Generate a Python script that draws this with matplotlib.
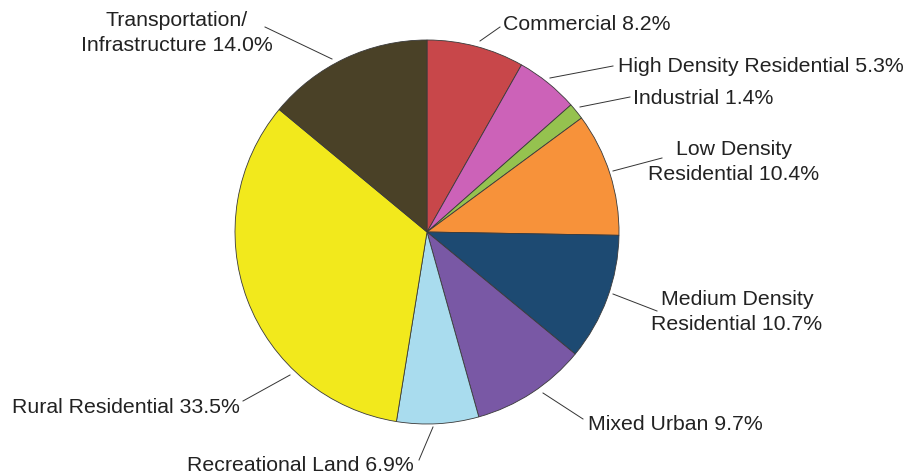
import matplotlib
matplotlib.use("Agg")
import matplotlib.pyplot as plt

plt.rcParams['font.family'] = ['Liberation Sans', 'DejaVu Sans']

categories = ["Commercial", "High Density Residential", "Industrial",
              "Low Density\nResidential", "Medium Density\nResidential",
              "Mixed Urban", "Recreational Land", "Rural Residential",
              "Transportation/\nInfrastructure"]
values = [8.2, 5.3, 1.4, 10.4, 10.7, 9.7, 6.9, 33.5, 14.0]
colors = ["#c8474a", "#cc62b8", "#95c24f", "#f7923a", "#1d4a72",
          "#7958a5", "#a9dcee", "#f2e91c", "#4a4127"]

# label layout in pixel coords (x, y from top), alignment, leader line
label_pos = [
    (503, 25, 'left', (480, 42), (500, 28)),
    (618, 66, 'left', (550, 79), (613, 67)),
    (633, 99, 'left', (580, 108), (630, 98)),
    (734, 162, 'center', (613, 172), (662, 159)),
    (737, 312, 'center', (613, 295), (657, 312)),
    (588, 425, 'left', (543, 394), (583, 420)),
    (187, 466, 'left', (433, 428), (419, 461)),
    (12, 408, 'left', (290, 376), (243, 402)),
    (177, 33, 'center', (332, 60), (265, 28)),
]

W, H = 907, 477
fig = plt.figure(figsize=(W / 100, H / 100), dpi=100)
ax = fig.add_axes([0, 0, 1, 1])

cx, cy, r = 427, 233, 192
ax.pie(values, colors=colors, startangle=90, counterclock=False,
       center=(cx, H - cy), radius=r, frame=True,
       wedgeprops=dict(edgecolor='#3a3a3a', linewidth=0.6))
ax.set_xlim(0, W)
ax.set_ylim(0, H)
ax.set_aspect('equal')
ax.axis('off')

for cat, v, (tx, ty, ha, p0, p1) in zip(categories, values, label_pos):
    ax.text(tx, H - ty, f"{cat} {v:.1f}%", ha=ha, va='center',
            multialignment='center', fontsize=15.3, color='#222222',
            linespacing=1.35)
    ax.plot([p0[0], p1[0]], [H - p0[1], H - p1[1]], color='#333333',
            linewidth=0.7)

fig.savefig("out.png", dpi=100, facecolor='white')
